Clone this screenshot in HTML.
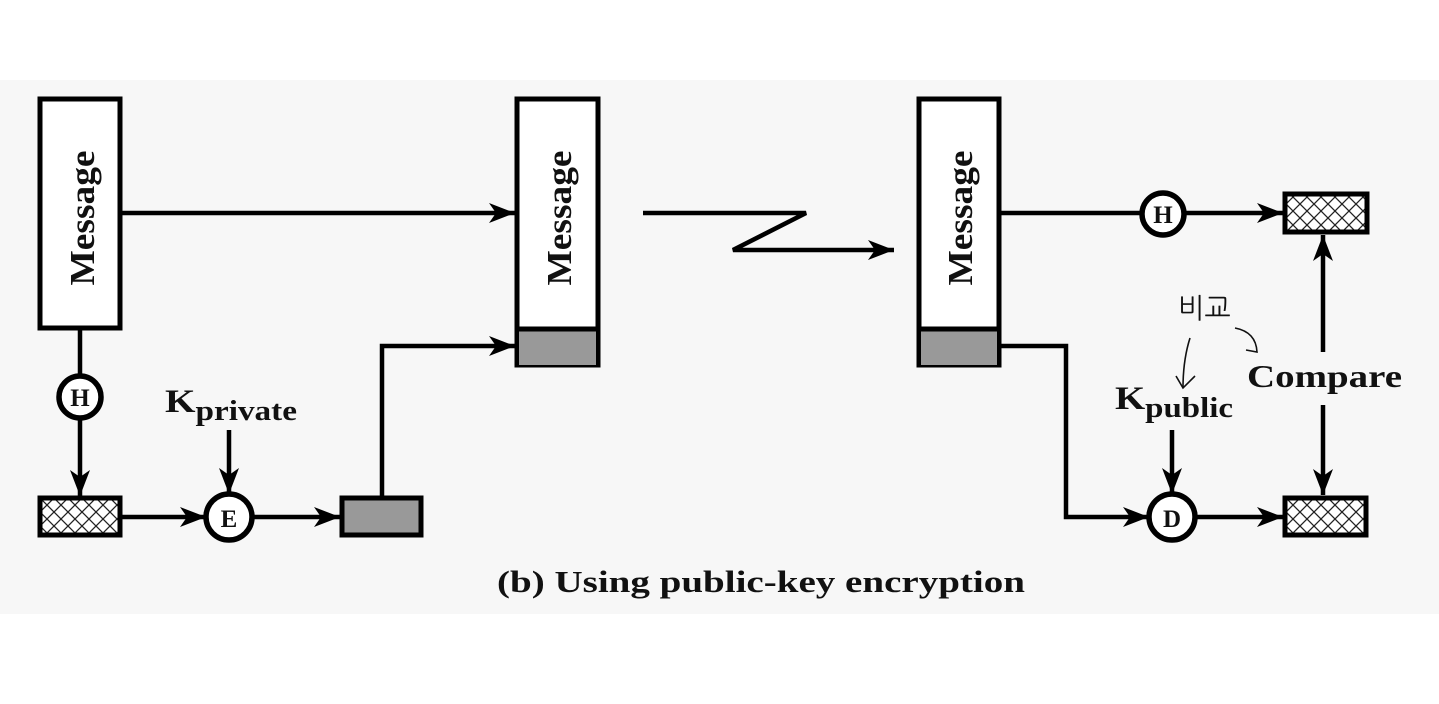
<!DOCTYPE html>
<html><head><meta charset="utf-8"><style>
html,body{margin:0;padding:0;background:#fff;}
svg{display:block;}
text{font-family:"Liberation Serif",serif;font-weight:bold;fill:#111;}
</style></head><body>
<svg width="1439" height="704" viewBox="0 0 1439 704" xmlns="http://www.w3.org/2000/svg">
<defs>
<pattern id="hx" width="14" height="14" patternUnits="userSpaceOnUse" x="40" y="498">
<rect width="14" height="14" fill="#fff"/>
<path d="M0 0L14 14M14 0L0 14" stroke="#222" stroke-width="1.3"/>
</pattern>
<marker id="ar" markerWidth="30" markerHeight="24" refX="26" refY="12" orient="auto" markerUnits="userSpaceOnUse">
<path d="M0 2 L26 12 L0 22 L7 12 Z" fill="#000"/>
</marker>
</defs>
<rect x="0" y="80" width="1439" height="534" fill="#f7f7f7"/>
<g stroke="#000" stroke-width="5" fill="none">
<rect x="40" y="99" width="80" height="229" fill="#fff"/>
<rect x="517" y="99" width="81" height="266" fill="#fff"/>
<rect x="519" y="330" width="77" height="35" fill="#999" stroke-width="0"/>
<line x1="517" y1="329" x2="598" y2="329"/>
<rect x="919" y="99" width="80" height="266" fill="#fff"/>
<rect x="921" y="330" width="76" height="35" fill="#999" stroke-width="0"/>
<line x1="919" y1="329" x2="999" y2="329"/>
<rect x="40" y="498" width="80" height="37" fill="url(#hx)"/>
<rect x="342" y="498" width="79" height="37" fill="#999"/>
<rect x="1285" y="194" width="82" height="38" fill="url(#hx)"/>
<rect x="1285" y="498" width="81" height="37" fill="url(#hx)"/>
<circle cx="80" cy="397" r="21" fill="#fff" stroke-width="5.5"/>
<circle cx="229" cy="517" r="23" fill="#fff" stroke-width="5.5"/>
<circle cx="1163" cy="214" r="21" fill="#fff" stroke-width="5.5"/>
<circle cx="1172" cy="517" r="23" fill="#fff" stroke-width="5.5"/>
</g>
<g stroke="#000" stroke-width="4.5" fill="none">
<line x1="120" y1="213" x2="515" y2="213" marker-end="url(#ar)"/>
<line x1="80" y1="328" x2="80" y2="376"/>
<line x1="80" y1="418" x2="80" y2="496" marker-end="url(#ar)"/>
<line x1="120" y1="517" x2="206" y2="517" marker-end="url(#ar)"/>
<line x1="229" y1="430" x2="229" y2="494" marker-end="url(#ar)"/>
<line x1="252" y1="517" x2="340" y2="517" marker-end="url(#ar)"/>
<polyline points="382,496 382,346 515,346" marker-end="url(#ar)"/>
<polyline points="643,213 806,213 733,250 894,250" marker-end="url(#ar)"/>
<line x1="999" y1="213" x2="1142" y2="213"/>
<line x1="1184" y1="213" x2="1283" y2="213" marker-end="url(#ar)"/>
<polyline points="999,346 1066,346 1066,517 1149,517" marker-end="url(#ar)"/>
<line x1="1195" y1="517" x2="1283" y2="517" marker-end="url(#ar)"/>
<line x1="1172" y1="430" x2="1172" y2="494" marker-end="url(#ar)"/>
<line x1="1323" y1="352" x2="1323" y2="235" marker-end="url(#ar)"/>
<line x1="1323" y1="405" x2="1323" y2="495" marker-end="url(#ar)"/>
</g>
<text transform="translate(94,218) rotate(-90)" text-anchor="middle" font-size="35" textLength="135" lengthAdjust="spacingAndGlyphs">Message</text>
<text transform="translate(571,218) rotate(-90)" text-anchor="middle" font-size="35" textLength="135" lengthAdjust="spacingAndGlyphs">Message</text>
<text transform="translate(972,218) rotate(-90)" text-anchor="middle" font-size="35" textLength="135" lengthAdjust="spacingAndGlyphs">Message</text>
<text x="80" y="406" text-anchor="middle" font-size="25">H</text>
<text x="229" y="527" text-anchor="middle" font-size="25">E</text>
<text x="1163" y="223" text-anchor="middle" font-size="25">H</text>
<text x="1172" y="527" text-anchor="middle" font-size="25">D</text>
<text x="165" y="412" font-size="33" textLength="132" lengthAdjust="spacingAndGlyphs">K<tspan font-size="28" dy="8">private</tspan></text>
<text x="1115" y="409" font-size="33" textLength="118" lengthAdjust="spacingAndGlyphs">K<tspan font-size="28" dy="8">public</tspan></text>
<text x="1247" y="387" font-size="32" textLength="155" lengthAdjust="spacingAndGlyphs">Compare</text>
<text x="497" y="592" font-size="31" textLength="528" lengthAdjust="spacingAndGlyphs">(b) Using public-key encryption</text>
<text x="1178" y="318" font-size="28" style="font-family:'Liberation Sans','NanumGothic',sans-serif;font-weight:normal">비교</text>
<g stroke="#111" stroke-width="1.6" fill="none">
<path d="M1190 338 Q1183 360 1183 388"/>
<path d="M1176 376 L1183 388 L1195 376"/>
<path d="M1235 328 Q1256 332 1257 352 L1246 350"/>
</g>
</svg>
</body></html>
